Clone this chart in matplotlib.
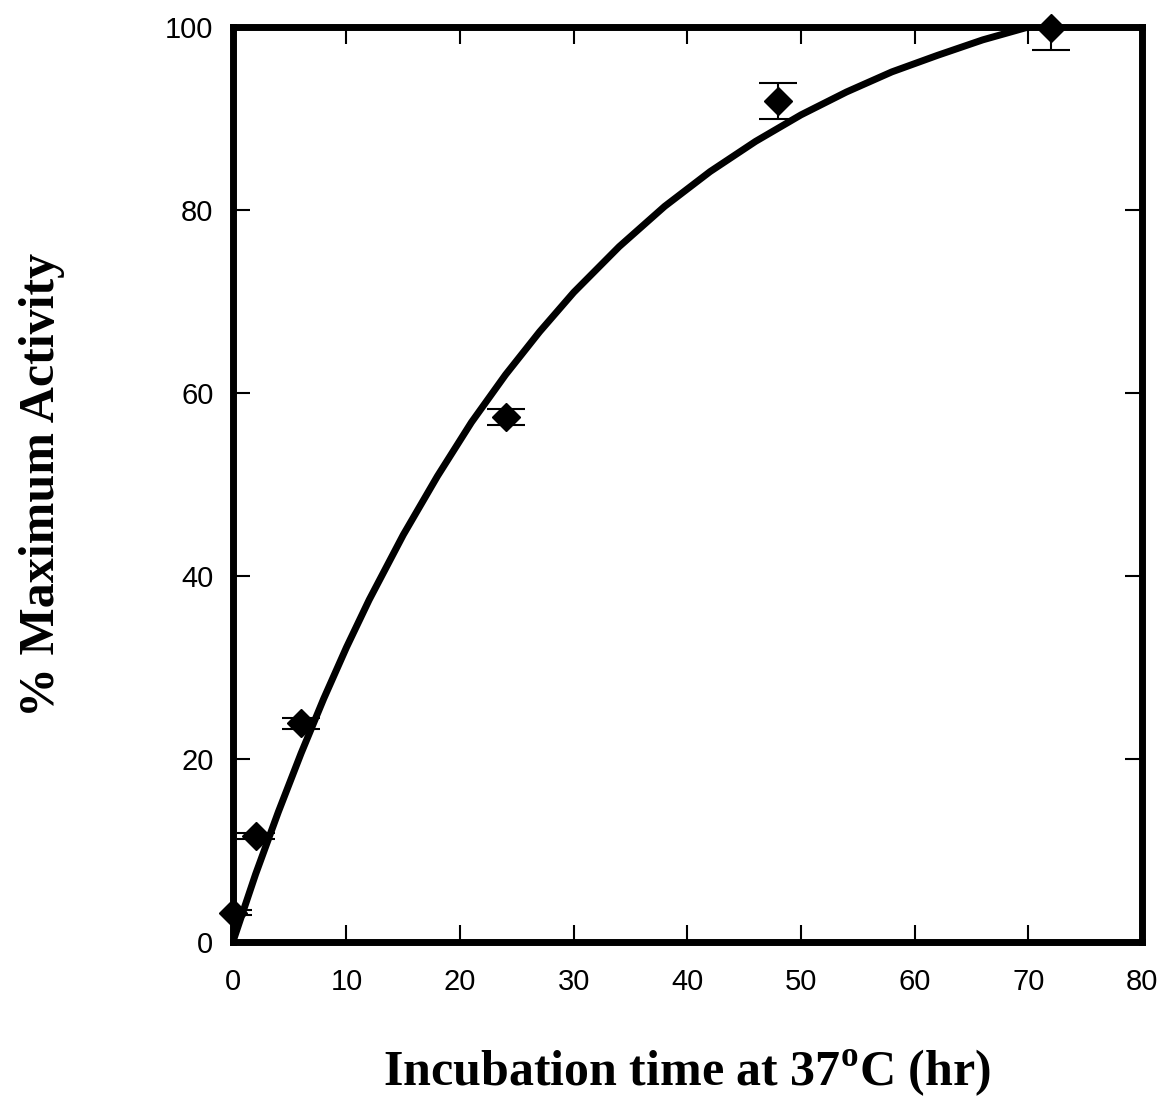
import matplotlib
matplotlib.use("Agg")
import matplotlib.pyplot as plt

# measured points (mean +/- error)
time_hr = [0, 2, 6, 24, 48, 72]
activity = [3.2, 11.6, 23.9, 57.4, 91.9, 99.9]
activity_err = [0.3, 0.3, 0.6, 0.9, 2.0, 2.4]

# fitted curve
curve_t = [0, 1, 2, 3, 4, 6, 8, 10, 12, 15, 18, 21, 24, 27, 30, 34, 38,
           42, 46, 50, 54, 58, 62, 66, 70, 72]
curve_y = [0, 3.7, 7.4, 10.8, 14.2, 20.6, 26.6, 32.2, 37.4, 44.5, 50.9,
           56.8, 62.0, 66.7, 71.0, 76.0, 80.4, 84.2, 87.5, 90.4, 92.9,
           95.1, 96.9, 98.6, 100.0, 100.5]

x_ticks = [0, 10, 20, 30, 40, 50, 60, 70, 80]
y_ticks = [0, 20, 40, 60, 80, 100]

plt.rcParams['mathtext.fontset'] = 'custom'
plt.rcParams['mathtext.rm'] = 'Liberation Serif:bold'
plt.rcParams['mathtext.bf'] = 'Liberation Serif:bold'

fig = plt.figure(figsize=(11.76, 10.99), dpi=100)
ax = fig.add_axes([0.198, 0.1429, 0.773, 0.8325])

ax.plot(curve_t, curve_y, color='black', lw=5, solid_capstyle='butt', zorder=2)
ax.errorbar(time_hr, activity, yerr=activity_err, fmt='none', ecolor='black',
            elinewidth=1.5, capsize=14, capthick=1.5, zorder=3)
ax.plot(time_hr, activity, 'D', color='black', markersize=14, clip_on=False, zorder=4)

ax.set_xlim(0, 80)
ax.set_ylim(0, 100)
ax.set_xticks(x_ticks)
ax.set_yticks(y_ticks)
ax.tick_params(direction='in', length=12, width=1.5, top=True, right=True,
               labelsize=21, pad=14)
for lab in ax.get_xticklabels() + ax.get_yticklabels():
    lab.set_fontfamily('Liberation Sans')
ax.tick_params(axis='x', pad=19)

for sp in ax.spines.values():
    sp.set_linewidth(5)

ax.set_xlabel(r'Incubation time at 37$^{\mathrm{o}}$C (hr)', family='Liberation Serif',
              fontweight='bold', fontsize=36, labelpad=37)
ax.set_ylabel('% Maximum Activity', family='Liberation Serif',
              fontweight='bold', fontsize=36, labelpad=72)

fig.savefig('out.png', dpi=100)
